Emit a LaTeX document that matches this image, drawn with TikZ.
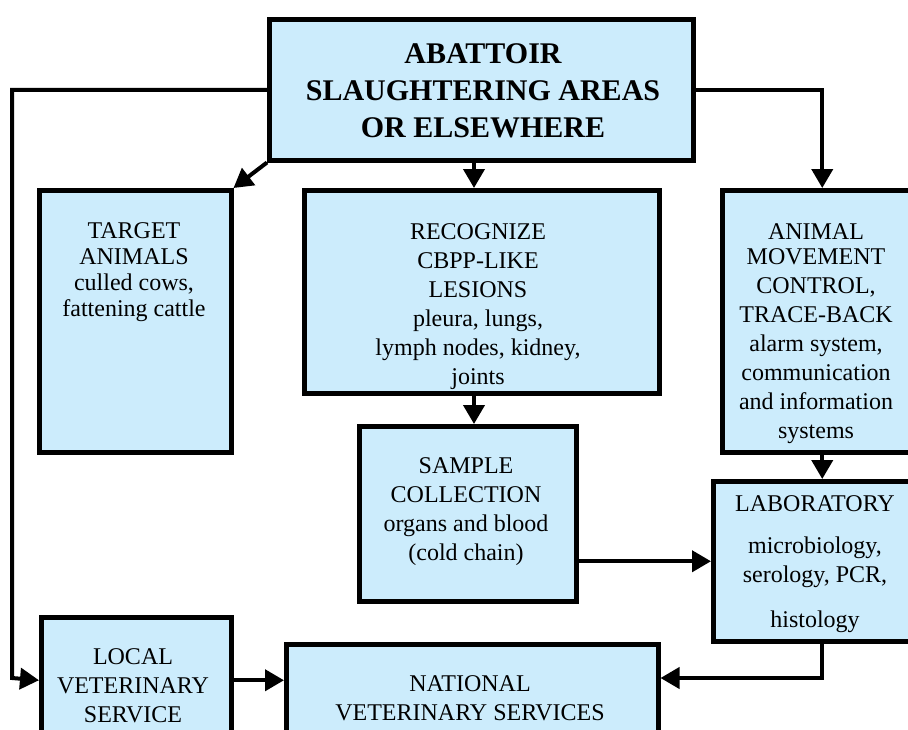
\documentclass[tikz,border=0pt]{standalone}
\usepackage{fontspec}
\setmainfont{Liberation Serif}
\usetikzlibrary{arrows.meta}
\definecolor{boxblue}{RGB}{204,236,252}
\tikzset{
  box/.style={draw, line width=4.5pt, fill=boxblue, anchor=north west, inner sep=0pt},
  lbl/.style={anchor=north, inner sep=0pt, align=center, font=\fontsize{24}{29}\selectfont},
  arr/.style={line width=4pt, -{Triangle[length=19pt,width=21pt]}},
}

\begin{document}
\begin{tikzpicture}[x=1pt,y=1pt,yscale=-1,xscale=1]
        \useasboundingbox (0,0) rectangle (908,729);
        \clip (0,0) rectangle (908,729);
        %Boxes
        \node[box, minimum width=424pt, minimum height=141pt] (abattoir) at (267,17) {};
        \node[box, minimum width=192pt, minimum height=262pt] (target) at (37,188) {};
        \node[box, minimum width=355pt, minimum height=203pt] (recognize) at (302,188) {};
        \node[box, minimum width=200pt, minimum height=262pt] (animal) at (720,188) {};
        \node[box, minimum width=217pt, minimum height=175pt] (sample) at (357,424) {};
        \node[box, minimum width=218pt, minimum height=160pt] (lab) at (711,479) {};
        \node[box, minimum width=190pt, minimum height=126pt] (local) at (39,615) {};
        \node[box, minimum width=372pt, minimum height=120pt] (national) at (284,642) {};
        % Text Node
        \node[lbl, font=\bfseries\fontsize{30}{37}\selectfont] (abattoir-t) at (483,43) {ABATTOIR\\SLAUGHTERING AREAS\\OR ELSEWHERE};
        % Text Node
        \node[lbl, font=\fontsize{24}{26}\selectfont] (target-t) at (134,222) {TARGET\\ANIMALS\\culled cows,\\fattening cattle};
        % Text Node
        \node[lbl] (recognize-t) at (478,223) {RECOGNIZE\\CBPP-LIKE\\LESIONS\\pleura, lungs,\\lymph nodes, kidney,\\joints};
        % Text Node
        \node[lbl] (animal-t) at (816,223) {ANIMAL\\[-4pt]MOVEMENT\\CONTROL,\\TRACE-BACK\\alarm system,\\communication\\and information\\systems};
        % Text Node
        \node[lbl] (sample-t) at (466,457) {SAMPLE\\COLLECTION\\organs and blood\\(cold chain)};
        % Text Node
        \node[lbl] (lab-t) at (815,495) {LABORATORY\\[13pt]microbiology,\\serology, PCR,\\[16pt]histology};
        % Text Node
        \node[lbl] (local-t) at (133,648) {LOCAL\\VETERINARY\\SERVICE};
        % Text Node
        \node[lbl] (national-t) at (470,675) {NATIONAL\\VETERINARY SERVICES};
        %Connectors
        \coordinate (midx) at (474,0);
        \coordinate (lowy) at (0,678);
        \coordinate (leftx) at (12,0);
        \draw[arr] (abattoir.west) -| (leftx |- lowy) -- (local.west);
        \draw[arr] (abattoir.east) -| (animal.north);
        \draw[arr] (abattoir.south west) -- (target.north east);
        \draw[arr] (abattoir.south -| midx) -- (recognize.north -| midx);
        \draw[arr] (recognize.south -| midx) -- (sample.north -| midx);
        \draw[arr] (animal.south) -- (lab.north);
        \draw[arr] (sample.east |- lab.west) -- (lab.west);
        \draw[arr] (lab.south) |- (national.east |- lowy);
        \draw[arr] (local.east) -- (national.west |- local.east);
\end{tikzpicture}
\end{document}
